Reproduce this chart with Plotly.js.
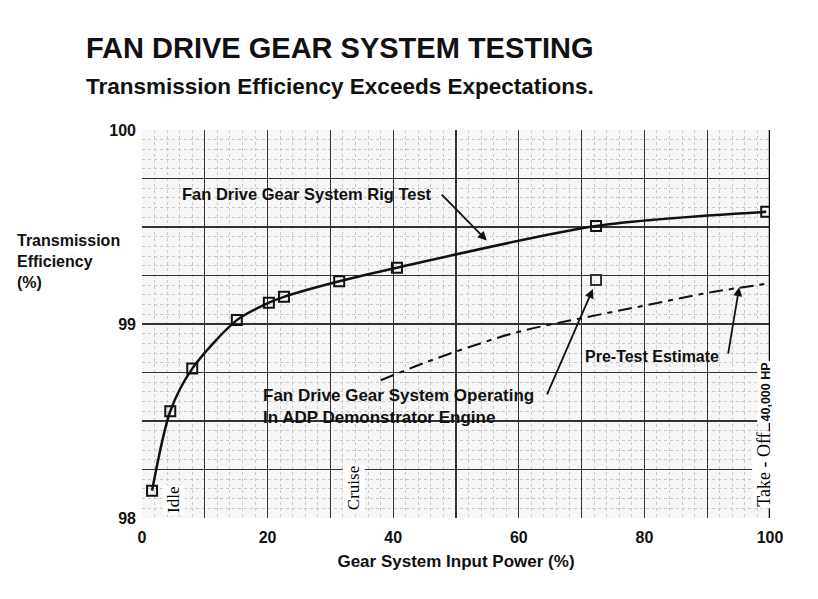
<!DOCTYPE html>
<html>
<head>
<meta charset="utf-8">
<script src="https://cdn.plot.ly/plotly-3.0.1.min.js"></script>
<style>
  html, body { margin: 0; padding: 0; background: #ffffff; }
  #myDiv { width: 818px; height: 599px; }
</style>
</head>
<body>
<div id="myDiv"></div>
<script>
const config = {
    displayModeBar: false,
    staticPlot: true
};

// rig test points
var rigPower = [1.6, 4.5, 8.0, 15.1, 20.2, 22.6, 31.4, 40.6, 72.3, 99.4];
var rigEff = [98.14, 98.55, 98.77, 99.02, 99.11, 99.14, 99.22, 99.29, 99.505, 99.578];

// engine test point
var enginePower = [72.3];
var engineEff = [99.227];

// pre-test estimate (dashed)
var estPower = [38, 45, 52, 60, 70, 80, 90, 100];
var estEff = [98.71, 98.80, 98.88, 98.96, 99.03, 99.095, 99.16, 99.21];

var xTicks = [0, 10, 20, 30, 40, 50, 60, 70, 80, 90, 100];
var xTickText = ['0', '', '20', '', '40', '', '60', '', '80', '', '100'];
var yTicks = [98, 98.25, 98.5, 98.75, 99, 99.25, 99.5, 99.75, 100];
var yTickText = ['98', '', '', '', '99', '', '', '', '100'];

var font = 'Liberation Sans, Arial, sans-serif';
var serif = 'Liberation Serif, Times New Roman, serif';

var data = [
    {
        type: 'scatter',
        mode: 'lines',
        x: estPower,
        y: estEff,
        showlegend: false,
        line: {
            color: '#111111',
            width: 2,
            dash: '14px,6px,5px,6px',
            shape: 'spline'
        }
    },
    {
        type: 'scatter',
        mode: 'lines+markers',
        x: rigPower,
        y: rigEff,
        showlegend: false,
        line: {
            color: '#111111',
            width: 2.5,
            shape: 'spline',
            smoothing: 0.8
        },
        marker: {
            symbol: 'square-open',
            size: 10,
            color: '#111111',
            line: { width: 2 }
        }
    },
    {
        type: 'scatter',
        mode: 'markers',
        x: enginePower,
        y: engineEff,
        showlegend: false,
        marker: {
            symbol: 'square-open',
            size: 10,
            color: '#333333',
            line: { width: 2 }
        }
    }
];

var arrowStyle = {
    showarrow: true,
    arrowhead: 2,
    arrowsize: 1,
    arrowwidth: 1.8,
    arrowcolor: '#111111',
    axref: 'x',
    ayref: 'y',
    text: ''
};

var layout = {
    width: 818,
    height: 599,
    margin: {
        l: 142,
        r: 48,
        b: 81,
        t: 130,
        pad: 0
    },
    xaxis: {
        range: [0, 100],
        tickvals: xTicks,
        ticktext: xTickText,
        showgrid: true,
        gridcolor: '#333333',
        gridwidth: 1.3,
        zeroline: false,
        showline: false,
        ticks: '',
        ticklabelstandoff: 8,
        tickfont: { family: font, size: 16, color: '#111111', weight: 'bold' },
        minor: {
            dtick: 2,
            showgrid: true,
            gridcolor: '#c8c8c8',
            gridwidth: 1,
            griddash: 'dot'
        },
        title: {
            text: '<b>Gear System Input Power (%)</b>',
            font: { family: font, size: 17, color: '#111111' },
            standoff: 10
        }
    },
    yaxis: {
        range: [98, 100],
        tickvals: yTicks,
        ticktext: yTickText,
        showgrid: true,
        gridcolor: '#333333',
        gridwidth: 1.3,
        zeroline: false,
        showline: false,
        ticks: '',
        ticklabelstandoff: 5,
        tickfont: { family: font, size: 16, color: '#111111', weight: 'bold' },
        minor: {
            dtick: 0.05,
            showgrid: true,
            gridcolor: '#c8c8c8',
            gridwidth: 1,
            griddash: 'dot'
        }
    },
    shapes: [
        {
            type: 'line', xref: 'x', yref: 'y',
            x0: 100, x1: 100, y0: 98, y1: 100.02,
            line: { color: '#000000', width: 2.5 }
        }
    ],
    annotations: [
        {
            xref: 'paper', yref: 'paper', x: -0.092, y: 1.211,
            xanchor: 'left', yanchor: 'middle', showarrow: false,
            text: '<b>FAN DRIVE GEAR SYSTEM TESTING</b>',
            font: { family: font, size: 29, color: '#111111' }
        },
        {
            xref: 'paper', yref: 'paper', x: -0.092, y: 1.113,
            xanchor: 'left', yanchor: 'middle', showarrow: false,
            text: '<b>Transmission Efficiency Exceeds Expectations.</b>',
            font: { family: font, size: 22.5, color: '#111111' }
        },
        {
            xref: 'paper', yref: 'paper', x: -0.202, y: 0.66,
            xanchor: 'left', yanchor: 'middle', align: 'left', showarrow: false,
            text: '<b>Transmission<br>Efficiency<br>(%)</b>',
            font: { family: font, size: 16, color: '#111111' }
        },
        {
            xref: 'x', yref: 'y', x: 26.3, y: 99.67,
            xanchor: 'center', yanchor: 'middle', showarrow: false,
            text: '<b>Fan Drive Gear System Rig Test</b>',
            font: { family: font, size: 16.5, color: '#111111' }
        },
        Object.assign({}, arrowStyle, { x: 54.9, y: 99.43, ax: 47.5, ay: 99.675 }),
        {
            xref: 'x', yref: 'y', x: 81.2, y: 98.83,
            xanchor: 'center', yanchor: 'middle', showarrow: false,
            text: '<b>Pre-Test Estimate</b>',
            font: { family: font, size: 16, color: '#111111' }
        },
        Object.assign({}, arrowStyle, { x: 95.1, y: 99.19, ax: 93.3, ay: 98.84 }),
        {
            xref: 'x', yref: 'y', x: 19.0, y: 98.575,
            xanchor: 'left', yanchor: 'middle', align: 'left', showarrow: false,
            text: '<b>Fan Drive Gear System Operating<br>In ADP Demonstrator Engine</b>',
            font: { family: font, size: 17, color: '#111111' }
        },
        Object.assign({}, arrowStyle, { x: 71.8, y: 99.18, ax: 64.4, ay: 98.63 }),
        {
            xref: 'x', yref: 'y', x: 5.1, y: 98.093,
            xanchor: 'center', yanchor: 'middle', showarrow: false,
            textangle: -90, bgcolor: '#ffffff',
            text: 'Idle',
            font: { family: serif, size: 17, color: '#000000' }
        },
        {
            xref: 'x', yref: 'y', x: 33.8, y: 98.155,
            xanchor: 'center', yanchor: 'middle', showarrow: false,
            textangle: -90, bgcolor: '#ffffff',
            text: 'Cruise',
            font: { family: serif, size: 17, color: '#000000' }
        },
        {
            xref: 'x', yref: 'y', x: 99.0, y: 98.247,
            xanchor: 'center', yanchor: 'middle', showarrow: false,
            textangle: -90, bgcolor: '#ffffff',
            text: 'Take - Off',
            font: { family: serif, size: 18, color: '#000000' }
        },
        {
            xref: 'x', yref: 'y', x: 99.3, y: 98.65,
            xanchor: 'center', yanchor: 'middle', showarrow: false,
            textangle: -90, bgcolor: '#ffffff',
            text: '<b>40,000 HP</b>',
            font: { family: font, size: 12.5, color: '#111111' }
        }
    ],
    paper_bgcolor: '#ffffff',
    plot_bgcolor: '#f6f6f6',
    font: {
        family: font,
        size: 12,
        color: '#111111'
    }
};
Plotly.newPlot("myDiv", data, layout, config);
</script>
</body>
</html>
